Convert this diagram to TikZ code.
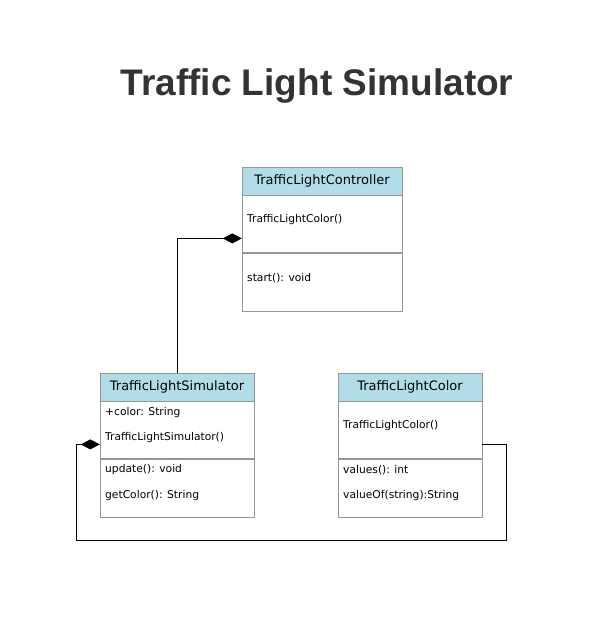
\documentclass[tikz,border=0pt]{standalone}
\usepackage{fontspec}
\setmainfont{DejaVu Sans}
\newfontfamily\titlefont{Liberation Sans}
\usepackage{tikz}
\usetikzlibrary{positioning, arrows.meta, calc}
\definecolor{hdrblue}{RGB}{177,221,232}
\definecolor{boxgray}{RGB}{150,150,150}
\definecolor{titlegray}{RGB}{51,51,51}

\begin{document}
\begin{tikzpicture}[x=1pt,y=-1pt,
    hdr/.style={draw=boxgray, fill=hdrblue, inner sep=0pt, font=\fontsize{13}{15}\selectfont},
    sect/.style={draw=boxgray, fill=white, inner sep=0pt},
    lbl/.style={anchor=west, inner sep=0pt, font=\fontsize{10.7}{12}\selectfont},
    comp/.style={draw=black, line width=0.8pt, -{Diamond[length=19pt,width=10pt,fill=black]}}]
  \fill[white] (0,0) rectangle (600,643);
  \node[font=\titlefont\fontsize{37}{42}\bfseries, text=titlegray] (title) at (317,86) {Traffic Light Simulator};

  % TrafficLightController
  \node[hdr, minimum width=160pt, minimum height=28pt] (ctrlH) at (322,181) {TrafficLightController};
  \node[sect, minimum width=160pt, minimum height=57pt, below=0pt of ctrlH] (ctrlA) {};
  \node[sect, minimum width=160pt, minimum height=58pt, below=0pt of ctrlA] (ctrlM) {};
  \node[lbl] (ctrl1) at (247,220) {TrafficLightColor()};
  \node[lbl] (ctrl2) at (247,278) {start(): void};

  % TrafficLightSimulator
  \node[hdr, minimum width=154pt, minimum height=28pt] (simH) at (177,387) {TrafficLightSimulator};
  \node[sect, minimum width=154pt, minimum height=57pt, below=0pt of simH] (simA) {};
  \node[sect, minimum width=154pt, minimum height=58pt, below=0pt of simA] (simM) {};
  \node[lbl] (sim1) at (105,413) {+color: String};
  \node[lbl] (sim2) at (105,438) {TrafficLightSimulator()};
  \node[lbl] (sim3) at (105,470) {update(): void};
  \node[lbl] (sim4) at (105,496) {getColor(): String};

  % TrafficLightColor
  \node[hdr, minimum width=144pt, minimum height=28pt] (colH) at (410,387) {TrafficLightColor};
  \node[sect, minimum width=144pt, minimum height=57pt, below=0pt of colH] (colA) {};
  \node[sect, minimum width=144pt, minimum height=58pt, below=0pt of colA] (colM) {};
  \node[lbl] (col1) at (343,426) {TrafficLightColor()};
  \node[lbl] (col2) at (343,470) {values(): int};
  \node[lbl] (col3) at (343,496) {valueOf(string):String};

  % connectors
  \coordinate (loopR) at (506,540);
  \coordinate (loopL) at (76,540);
  \draw[comp] (simH.north) |- ([yshift=-14.5pt]ctrlA.west);
  \draw[comp] ([yshift=-14.5pt]colA.east) -| (loopR) -- (loopL) |- ([yshift=-14.5pt]simA.west);
\end{tikzpicture}
\end{document}
